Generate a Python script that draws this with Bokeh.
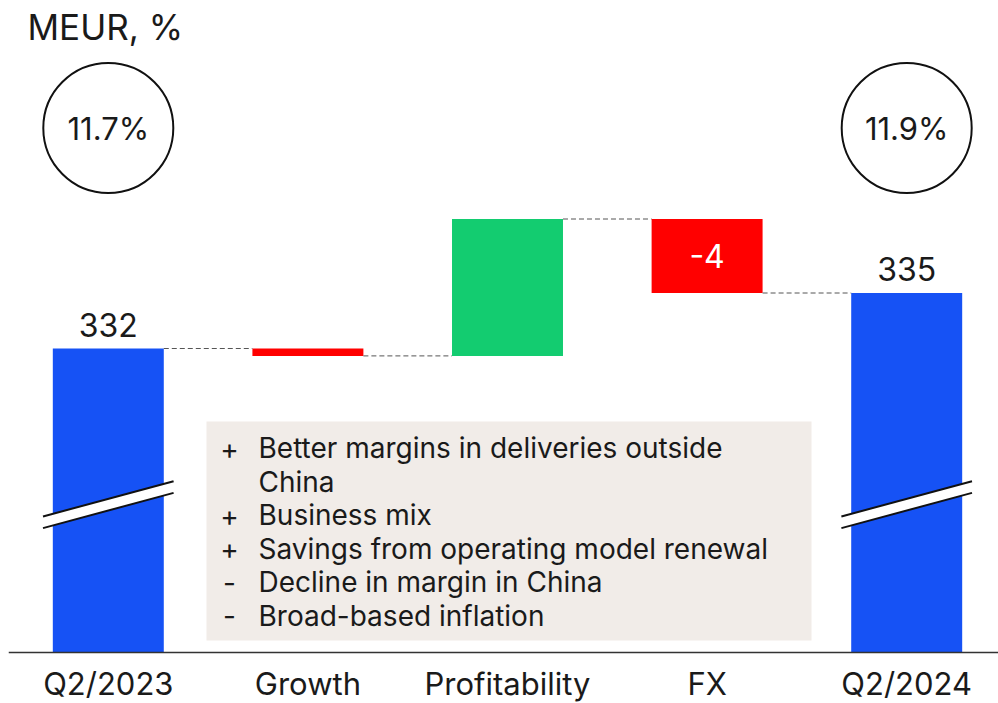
from bokeh.plotting import figure
from bokeh.models import Range1d, FixedTicker
from bokeh.core.properties import value
from bokeh.embed import file_html
from bokeh.resources import INLINE

# ---------------- data ----------------
CATEGORIES = ["Q2/2023", "Growth", "Profitability", "FX", "Q2/2024"]
START_TOTAL = 332
CHANGES = [-0.4, 7.4, -4]          # Growth, Profitability, FX
END_TOTAL = 335
VALUE_LABELS = ["332", "", "", "-4", "335"]
MARGINS = ["11.7%", "11.9%"]
UNIT_LABEL = "MEUR, %"
NOTE_SIGNS = ["+", "", "+", "+", "-", "-"]
NOTE_TEXTS = ["Better margins in deliveries outside", "China", "Business mix",
              "Savings from operating model renewal", "Decline in margin in China",
              "Broad-based inflation"]

# ---------------- styling / layout constants ----------------
FONT = "Inter"
TXT = "#1a1a1a"
BLUE = "#1652F5"
RED = "#FF0000"
GREEN = "#13CC70"
BOX = "#F1ECE8"
PX_X = 199.6           # px per category unit (approx)
PX_Y = 18.5            # px per MEUR (approx)
FRAME_LEFT, FRAME_TOP, W, H = 8, 8, 998, 703

def y_from_px(py):
    # convert an approximate page pixel row to the value scale (332 sits at row 348)
    return START_TOTAL + (348 - py) / PX_Y

def x_from_px(px):
    return -0.5 + (px - FRAME_LEFT) / PX_X

AXIS_BASE = y_from_px(651.5)      # broken axis: visible bottom of the bars
X_START, X_END = x_from_px(FRAME_LEFT), x_from_px(W)
Y_START, Y_END = y_from_px(H), y_from_px(FRAME_TOP)
BAR_W = 0.556

p = figure(width=W, height=H, output_backend="svg", toolbar_location=None,
           x_range=Range1d(X_START, X_END), y_range=Range1d(Y_START, Y_END),
           y_axis_location=None, min_border_left=FRAME_LEFT, min_border_right=0,
           min_border_top=FRAME_TOP, min_border_bottom=0)
p.grid.visible = False
p.outline_line_color = None
p.background_fill_color = "white"
p.border_fill_color = "white"

# ---------------- waterfall bars ----------------
xs = list(range(len(CATEGORIES)))
bottoms, tops, colors = [AXIS_BASE], [START_TOTAL], [BLUE]
level = START_TOTAL
levels = [START_TOTAL]
for ch in CHANGES:
    new = level + ch
    bottoms.append(min(level, new)); tops.append(max(level, new))
    colors.append(GREEN if ch > 0 else RED)
    level = new
    levels.append(level)
bottoms.append(AXIS_BASE); tops.append(END_TOTAL); colors.append(BLUE)

p.vbar(x=xs, width=BAR_W, bottom=bottoms, top=tops, fill_color=colors, line_color=None)

# connectors
x0s = [x + BAR_W / 2 for x in xs[:-1]]
x1s = [x - BAR_W / 2 for x in xs[1:]]
p.segment(x0=x0s, y0=levels, x1=x1s, y1=levels, line_color="#555555",
          line_width=1, line_dash="5 3")

# axis break marks on the total bars
hw = 65.3 / PX_X
rise = 17.65 / PX_Y
up_c = y_from_px(498.35)
lo_c = y_from_px(510.0)
for i in (0, len(xs) - 1):
    L, R = xs[i] - hw, xs[i] + hw
    p.patch([L, R, R, L], [up_c - rise, up_c + rise, lo_c + rise, lo_c - rise],
            fill_color="white", line_color=None)
    p.multi_line([[L, R], [L, R]], [[up_c - rise, up_c + rise], [lo_c - rise, lo_c + rise]],
                 line_color="#111111", line_width=2)

# value labels (positioned by the middle of the text)
lab_x, lab_y, lab_t, lab_c = [], [], [], []
for i, t in enumerate(VALUE_LABELS):
    if not t:
        continue
    lab_x.append(xs[i]); lab_t.append(t)
    if i in (0, len(xs) - 1):
        lab_y.append(tops[i] + 24 / PX_Y); lab_c.append(TXT)
    else:
        lab_y.append((tops[i] + bottoms[i]) / 2); lab_c.append("white")
p.text(x=lab_x, y=lab_y, text=lab_t, text_color=lab_c, text_baseline="middle",
       text_align="center", text_font=value(FONT), text_font_size=value("32px"))

# margin circles
circ_y = y_from_px(127.5)
p.scatter(x=[xs[0], xs[-1]], y=[circ_y, circ_y], marker="circle", size=130,
          fill_color="white", line_color="#111111", line_width=2)
p.text(x=[xs[0], xs[-1]], y=[circ_y, circ_y], text=MARGINS, text_align="center",
       text_baseline="middle", text_color=TXT, text_font=value(FONT),
       text_font_size=value("31px"))

# unit title
p.text(x=[x_from_px(27)], y=[y_from_px(26)], text=[UNIT_LABEL], text_align="left",
       text_baseline="middle", text_color=TXT, text_font=value(FONT),
       text_font_size=value("35px"))

# notes box
p.quad(left=x_from_px(206), right=x_from_px(811), top=y_from_px(421), bottom=y_from_px(640),
       fill_color=BOX, line_color=None)
mid0 = y_from_px(447.5)
step = 33.5 / PX_Y
ny = [mid0 - k * step for k in range(len(NOTE_TEXTS))]
p.text(x=[x_from_px(229)] * len(NOTE_SIGNS), y=ny, text=NOTE_SIGNS, text_align="center",
       text_baseline="middle", text_color=TXT, text_font=value(FONT),
       text_font_size=value("28px"))
p.text(x=[x_from_px(258)] * len(NOTE_TEXTS), y=ny, text=NOTE_TEXTS, text_align="left",
       text_baseline="middle", text_color=TXT, text_font=value(FONT),
       text_font_size=value("28px"))

# category axis, pinned at the broken-axis base
ax = p.xaxis[0]
ax.fixed_location = AXIS_BASE
ax.ticker = FixedTicker(ticks=xs)
ax.major_label_overrides = {i: c for i, c in enumerate(CATEGORIES)}
ax.major_tick_line_color = None
ax.minor_tick_line_color = None
ax.axis_line_color = "#333333"
ax.axis_line_width = 1.5
ax.major_label_standoff = 7
ax.major_label_text_font = FONT
ax.major_label_text_font_size = "31px"
ax.major_label_text_color = TXT

open("out.html", "w").write(file_html(p, INLINE))
